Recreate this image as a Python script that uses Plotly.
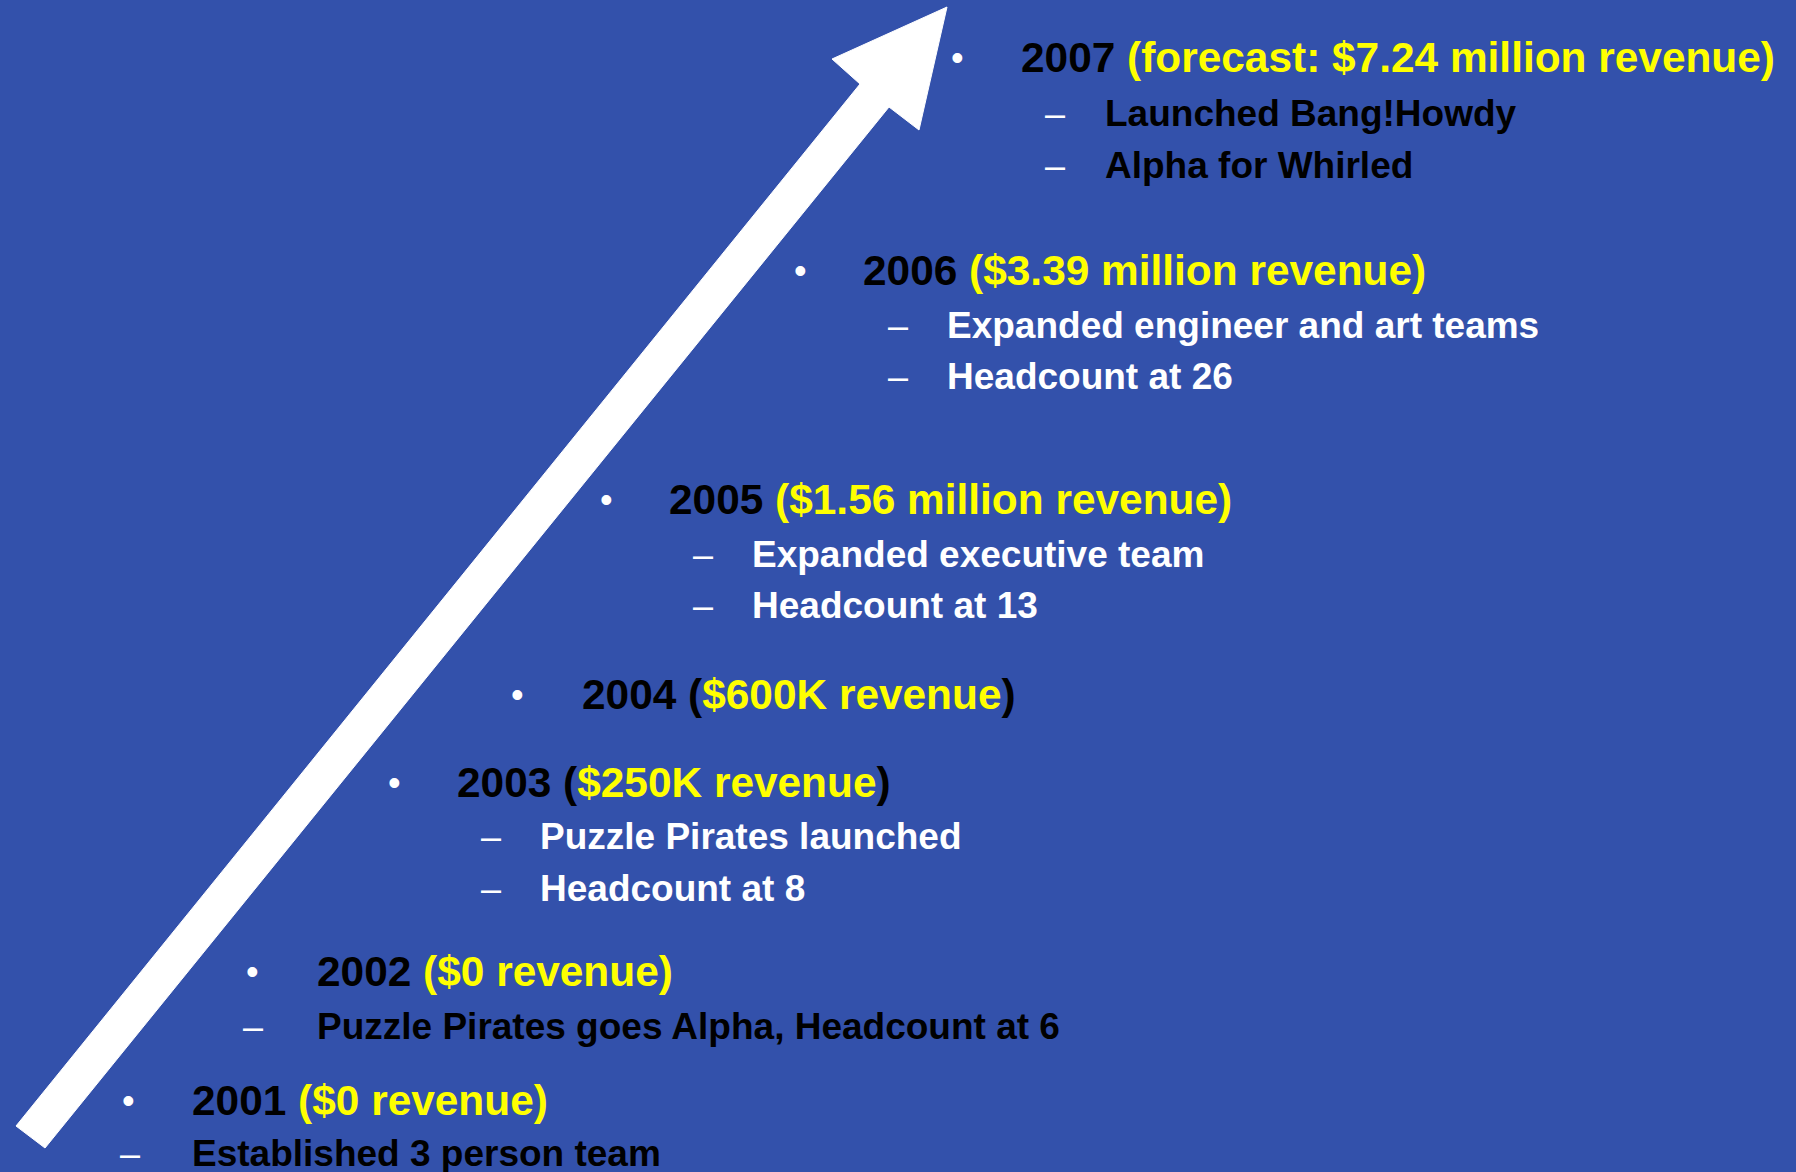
import plotly.graph_objects as go

# slide content
years = ['2007', '2006', '2005', '2004', '2003', '2002', '2001']
revenue = ['forecast: $7.24 million revenue', '$3.39 million revenue',
           '$1.56 million revenue', '$600K revenue', '$250K revenue',
           '$0 revenue', '$0 revenue']
paren_yellow = [True, True, True, False, False, True, True]
notes = [
    ['Launched Bang!Howdy', 'Alpha for Whirled'],
    ['Expanded engineer and art teams', 'Headcount at 26'],
    ['Expanded executive team', 'Headcount at 13'],
    [],
    ['Puzzle Pirates launched', 'Headcount at 8'],
    ['Puzzle Pirates goes Alpha, Headcount at 6'],
    ['Established 3 person team'],
]
note_colors = ['black', 'white', 'white', None, 'white', 'black', 'black']

# arrow outline
arrow_x = [16, 860, 832, 947, 919, 889, 45, 16]
arrow_y = [1126, 84, 59, 7, 130, 107, 1148, 1126]

# layout of each block (pixels): bullet x, year x, dash x, note x, line y, note ys
bullet_x = [955, 798, 604, 515, 392, 250, 126]
year_x = [1019, 861, 667, 580, 455, 315, 190]
dash_x = [1043, 886, 691, None, 479, 241, 118]
note_x = [1103, 945, 750, None, 538, 315, 190]
line_y = [57, 270, 499, 694, 782, 971, 1100]
note_y = [[113, 165], [325, 376], [554, 605], [], [836, 888], [1026], [1153]]

BG = '#3351AB'
YELLOW = '#FFFF00'
FONT = 'Liberation Sans, Arial, sans-serif'

fig = go.Figure()
fig.add_trace(go.Scatter(
    x=arrow_x, y=arrow_y, mode='lines', fill='toself',
    fillcolor='white', line=dict(color='white', width=1),
    hoverinfo='skip', showlegend=False
))

annotations = []

def add_text(x, y, text, size, color):
    annotations.append(dict(
        x=x, y=y, xref='x', yref='y', text=text, showarrow=False,
        xanchor='left', yanchor='middle',
        font=dict(family=FONT, size=size, color=color)
    ))

for i, year in enumerate(years):
    add_text(bullet_x[i] - 6, line_y[i], '•', 36, 'white')
    if paren_yellow[i]:
        body = f'<span style="color:{YELLOW}">({revenue[i]})</span>'
    else:
        body = f'(<span style="color:{YELLOW}">{revenue[i]}</span>)'
    add_text(year_x[i], line_y[i], f'<b>{year} {body}</b>', 42.4, 'black')
    for j, note in enumerate(notes[i]):
        add_text(dash_x[i], note_y[i][j], '–', 36, 'white')
        add_text(note_x[i], note_y[i][j], f'<b>{note}</b>', 37, note_colors[i])

fig.update_layout(
    width=1796, height=1172,
    margin=dict(l=0, r=0, t=0, b=0),
    paper_bgcolor=BG, plot_bgcolor=BG,
    xaxis=dict(range=[0, 1796], visible=False, fixedrange=True),
    yaxis=dict(range=[1172, 0], visible=False, fixedrange=True),
    annotations=annotations,
    showlegend=False
)

# drop the page margin so the slide fills the window
fig.write_html('out.html', config={'displayModeBar': False},
               post_script="document.body.style.margin='0';")
